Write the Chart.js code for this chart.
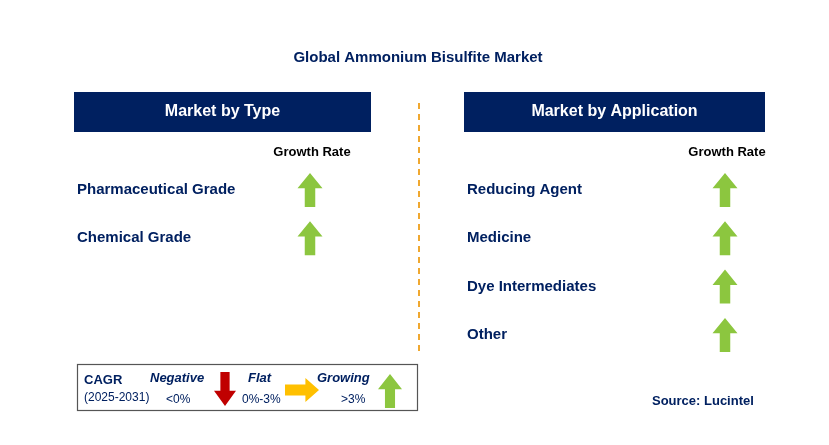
<!DOCTYPE html><html><head><meta charset="utf-8">
<script src="https://cdn.jsdelivr.net/npm/chart.js@4"></script>
<style>html,body{margin:0;padding:0;background:#fff}#w{width:829px;height:445px}</style></head><body>
<div id="w"><canvas id="c"></canvas></div>
<script>
const title = "Global Ammonium Bisulfite Market";
const typeCategories = ["Pharmaceutical Grade", "Chemical Grade"];
const typeGrowth = ["up", "up"];
const appCategories = ["Reducing Agent", "Medicine", "Dye Intermediates", "Other"];
const appGrowth = ["up", "up", "up", "up"];
const source = "Source: Lucintel";

const NAVY = "#002060", GREEN = "#8cc63f";
function arrowUp(ctx, cx, top, h, w, color) {
  const hh = h * 0.45, sw = w * 0.42;
  ctx.fillStyle = color; ctx.beginPath();
  ctx.moveTo(cx, top); ctx.lineTo(cx + w / 2, top + hh); ctx.lineTo(cx + sw / 2, top + hh);
  ctx.lineTo(cx + sw / 2, top + h); ctx.lineTo(cx - sw / 2, top + h); ctx.lineTo(cx - sw / 2, top + hh);
  ctx.lineTo(cx - w / 2, top + hh); ctx.closePath(); ctx.fill();
}
function arrowDown(ctx, cx, top, h, w, color) {
  const hh = h * 0.45, sw = w * 0.42;
  ctx.fillStyle = color; ctx.beginPath();
  ctx.moveTo(cx, top + h); ctx.lineTo(cx + w / 2, top + h - hh); ctx.lineTo(cx + sw / 2, top + h - hh);
  ctx.lineTo(cx + sw / 2, top); ctx.lineTo(cx - sw / 2, top); ctx.lineTo(cx - sw / 2, top + h - hh);
  ctx.lineTo(cx - w / 2, top + h - hh); ctx.closePath(); ctx.fill();
}
function arrowRight(ctx, left, cy, w, h, color) {
  const hw = w * 0.4, sh = h * 0.45;
  ctx.fillStyle = color; ctx.beginPath();
  ctx.moveTo(left + w, cy); ctx.lineTo(left + w - hw, cy - h / 2); ctx.lineTo(left + w - hw, cy - sh / 2);
  ctx.lineTo(left, cy - sh / 2); ctx.lineTo(left, cy + sh / 2); ctx.lineTo(left + w - hw, cy + sh / 2);
  ctx.lineTo(left + w - hw, cy + h / 2); ctx.closePath(); ctx.fill();
}
const F = '"Liberation Sans", Arial, sans-serif';
const infographic = {
  id: "infographic",
  afterDraw(chart) {
    const ctx = chart.ctx; ctx.save();
    ctx.textBaseline = "middle";
    ctx.fillStyle = NAVY; ctx.font = "bold 15px " + F; ctx.textAlign = "center";
    ctx.fillText(title, 418, 58);
    const panels = [
      { x: 74, w: 297, head: "Market by Type", cats: typeCategories, g: typeGrowth, ax: 310 },
      { x: 464, w: 301, head: "Market by Application", cats: appCategories, g: appGrowth, ax: 725 }
    ];
    panels.forEach(p => {
      ctx.fillStyle = NAVY; ctx.fillRect(p.x, 92, p.w, 40);
      ctx.fillStyle = "#fff"; ctx.font = "bold 16px " + F; ctx.textAlign = "center";
      ctx.fillText(p.head, p.x + p.w / 2, 112);
      ctx.fillStyle = "#000"; ctx.font = "bold 13px " + F;
      ctx.fillText("Growth Rate", p.ax + 2, 152);
      p.cats.forEach((c, i) => {
        const y = 190 + i * 48.3;
        ctx.fillStyle = NAVY; ctx.font = "bold 15px " + F; ctx.textAlign = "left";
        ctx.fillText(c, p.x + 3, y);
        if (p.g[i] === "up") arrowUp(ctx, p.ax, y - 17, 34, 25, GREEN);
      });
    });
    ctx.strokeStyle = "#f0a830"; ctx.lineWidth = 2; ctx.setLineDash([6, 5]);
    ctx.beginPath(); ctx.moveTo(419, 103); ctx.lineTo(419, 352); ctx.stroke(); ctx.setLineDash([]);
    ctx.strokeStyle = "#555"; ctx.lineWidth = 1.2; ctx.strokeRect(77.5, 364.5, 340, 46);
    ctx.textAlign = "left"; ctx.fillStyle = NAVY;
    ctx.font = "bold 13px " + F; ctx.fillText("CAGR", 84, 380);
    ctx.font = "12px " + F; ctx.fillText("(2025-2031)", 84, 398);
    ctx.font = "bold italic 13px " + F;
    ctx.fillText("Negative", 150, 378); ctx.fillText("Flat", 248, 378); ctx.fillText("Growing", 317, 378);
    ctx.font = "12px " + F;
    ctx.fillText("<0%", 166, 400); ctx.fillText("0%-3%", 242, 400); ctx.fillText(">3%", 341, 400);
    arrowDown(ctx, 225, 372, 34, 22, "#c00000");
    arrowRight(ctx, 285, 390, 34, 24, "#ffc000");
    arrowUp(ctx, 390, 374, 34, 24, GREEN);
    ctx.fillStyle = NAVY; ctx.font = "bold 13px " + F;
    ctx.fillText(source, 652, 401);
    ctx.restore();
  }
};
new Chart(document.getElementById("c"), {
  type: "scatter",
  data: { datasets: [{ data: [] }] },
  options: {
    responsive: true, maintainAspectRatio: false, animation: false,
    plugins: { legend: { display: false }, tooltip: { enabled: false } },
    scales: { x: { display: false }, y: { display: false } }
  },
  plugins: [infographic]
});
</script></body></html>
